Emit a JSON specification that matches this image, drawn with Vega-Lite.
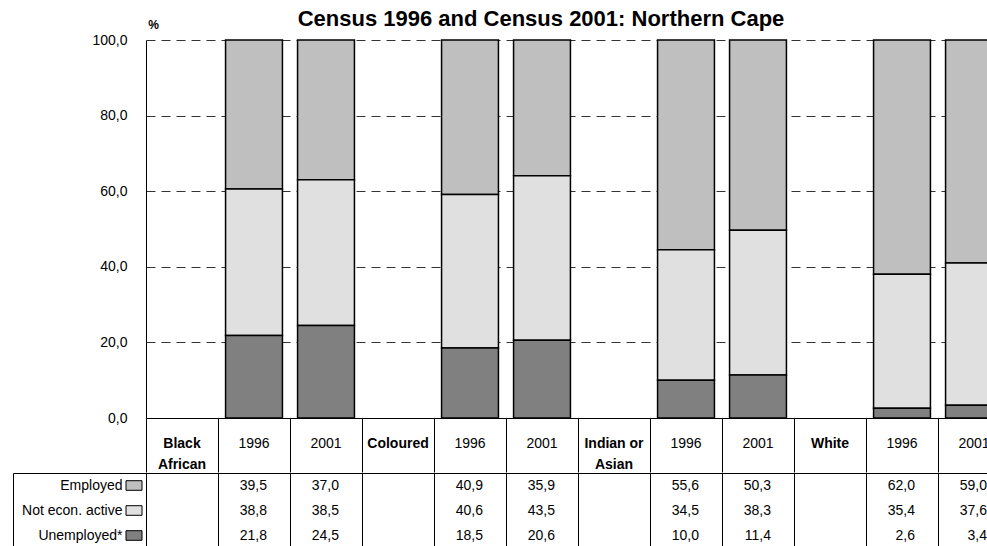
{
  "$schema": "https://vega.github.io/schema/vega-lite/v6.json",
  "padding": {"left": 12, "top": 8, "right": 0, "bottom": 0},
  "spacing": -1,
  "config": {
    "locale": {"number": {"decimal": ",", "thousands": " ", "grouping": [3], "currency": ["", ""]}},
    "font": "Liberation Sans",
    "view": {"stroke": null},
    "axis": {"labelColor": "black", "labelFontSize": 14, "labelFont": "Liberation Sans"},
    "text": {"font": "Liberation Sans"}
  },
  "data": {"values": [
    {"col": "B 1996", "status": "Employed", "value": 39.5},
    {"col": "B 1996", "status": "Not econ. active", "value": 38.8},
    {"col": "B 1996", "status": "Unemployed*", "value": 21.8},
    {"col": "B 2001", "status": "Employed", "value": 37.0},
    {"col": "B 2001", "status": "Not econ. active", "value": 38.5},
    {"col": "B 2001", "status": "Unemployed*", "value": 24.5},
    {"col": "C 1996", "status": "Employed", "value": 40.9},
    {"col": "C 1996", "status": "Not econ. active", "value": 40.6},
    {"col": "C 1996", "status": "Unemployed*", "value": 18.5},
    {"col": "C 2001", "status": "Employed", "value": 35.9},
    {"col": "C 2001", "status": "Not econ. active", "value": 43.5},
    {"col": "C 2001", "status": "Unemployed*", "value": 20.6},
    {"col": "I 1996", "status": "Employed", "value": 55.6},
    {"col": "I 1996", "status": "Not econ. active", "value": 34.5},
    {"col": "I 1996", "status": "Unemployed*", "value": 10.0},
    {"col": "I 2001", "status": "Employed", "value": 50.3},
    {"col": "I 2001", "status": "Not econ. active", "value": 38.3},
    {"col": "I 2001", "status": "Unemployed*", "value": 11.4},
    {"col": "W 1996", "status": "Employed", "value": 62.0},
    {"col": "W 1996", "status": "Not econ. active", "value": 35.4},
    {"col": "W 1996", "status": "Unemployed*", "value": 2.6},
    {"col": "W 2001", "status": "Employed", "value": 59.0},
    {"col": "W 2001", "status": "Not econ. active", "value": 37.6},
    {"col": "W 2001", "status": "Unemployed*", "value": 3.4}
  ]},
  "vconcat": [
    {
      "width": 864,
      "height": 378,
      "title": {
        "text": "Census 1996 and Census 2001: Northern Cape",
        "font": "Liberation Sans",
        "fontSize": 22,
        "fontWeight": "bold",
        "color": "black",
        "anchor": "middle",
        "frame": "group",
        "dx": -37,
        "offset": -13
      },
      "mark": {"type": "bar", "stroke": "black", "strokeWidth": 1.5, "width": {"band": 0.79}},
      "encoding": {
        "x": {
          "field": "col", "type": "nominal", "sort": null,
          "scale": {"type": "band", "domain": ["Black African", "B 1996", "B 2001", "Coloured", "C 1996", "C 2001", "Indian or Asian", "I 1996", "I 2001", "White", "W 1996", "W 2001"], "paddingInner": 0, "paddingOuter": 0},
          "axis": {
            "title": null, "orient": "bottom",
            "domain": true, "domainColor": "black", "domainWidth": 1,
            "ticks": true, "tickColor": "black", "tickSize": 54, "tickWidth": 1, "bandPosition": 0,
            "labelAngle": 0, "labelBaseline": "top", "labelPadding": -36, "labelLineHeight": 21,
            "labelOverlap": false, "labelFlush": false, "labelBound": false,
            "labelExpr": "datum.label == 'Black African' ? ['Black', 'African'] : datum.label == 'Indian or Asian' ? ['Indian or', 'Asian'] : length(datum.label) == 6 ? substring(datum.label, 2) : datum.label",
            "labelFontWeight": {"condition": {"test": "length(datum.value) != 6", "value": "bold"}, "value": "normal"}
          }
        },
        "y": {
          "field": "value", "type": "quantitative", "stack": "zero",
          "scale": {"domain": [0, 100], "nice": false, "clamp": true},
          "axis": {
            "values": [0, 20, 40, 60, 80, 100], "format": ".1f",
            "ticks": false, "domain": true, "domainColor": "black", "domainWidth": 1,
            "labelPadding": 19,
            "grid": true, "gridColor": "#333333", "gridDash": [9, 6], "gridWidth": 1, "gridOpacity": 1,
            "title": "%", "titleAngle": 0, "titleX": 7, "titleY": -12, "titleAlign": "center", "titleBaseline": "alphabetic",
            "titleFontSize": 12, "titleFontWeight": "bold", "titleColor": "black", "titleFont": "Liberation Sans"
          }
        },
        "color": {
          "field": "status", "type": "nominal",
          "scale": {"domain": ["Employed", "Not econ. active", "Unemployed*"], "range": ["#bfbfbf", "#e0e0e0", "#808080"]},
          "legend": null
        },
        "order": {"field": "status", "sort": "descending"}
      }
    },
    {
      "width": 864,
      "height": 75,
      "view": {"stroke": "black", "strokeWidth": 1},
      "layer": [
        {
          "mark": {"type": "text", "align": "right", "dx": 13, "baseline": "middle", "fontSize": 14, "color": "black"},
          "encoding": {
            "x": {
              "field": "col", "type": "nominal", "sort": null,
              "scale": {"type": "band", "domain": ["Black African", "B 1996", "B 2001", "Coloured", "C 1996", "C 2001", "Indian or Asian", "I 1996", "I 2001", "White", "W 1996", "W 2001"], "paddingInner": 0, "paddingOuter": 0},
              "axis": {"orient": "top", "title": null, "labels": false, "ticks": false, "domain": false, "grid": true, "gridColor": "black", "gridOpacity": 1, "gridWidth": 1, "bandPosition": 0}
            },
            "y": {
              "field": "status", "type": "nominal", "sort": null,
              "scale": {"type": "band", "domain": ["Employed", "Not econ. active", "Unemployed*"], "paddingInner": 0, "paddingOuter": 0},
              "axis": {"orient": "left", "title": null, "ticks": false, "domain": true, "domainColor": "black", "labelPadding": 24, "labelAlign": "right", "labelBaseline": "middle"}
            },
            "text": {"field": "value", "type": "quantitative", "format": ".1f"}
          }
        },
        {
          "transform": [{"filter": "datum.col == 'B 1996'"}],
          "mark": {"type": "point", "shape": "M-1,-0.6H1V0.6H-1Z", "size": 256, "filled": true, "stroke": "black", "strokeWidth": 1, "opacity": 1, "xOffset": -48},
          "encoding": {
            "x": {
              "datum": "Black African", "type": "nominal",
              "axis": {"orient": "top", "title": null, "labels": false, "ticks": false, "domain": false, "grid": true, "gridColor": "black", "gridOpacity": 1, "gridWidth": 1, "bandPosition": 0}
            },
            "y": {
              "field": "status", "type": "nominal", "sort": null,
              "axis": {"orient": "right", "offset": -997, "title": null, "labels": false, "domain": true, "domainColor": "black", "ticks": true, "tickColor": "black", "tickSize": 133, "tickWidth": 1, "values": ["Employed"], "bandPosition": 0, "grid": false}
            },
            "fill": {
              "field": "status", "type": "nominal",
              "scale": {"domain": ["Employed", "Not econ. active", "Unemployed*"], "range": ["#bfbfbf", "#e0e0e0", "#808080"]},
              "legend": null
            }
          }
        }
      ],
      "resolve": {"axis": {"y": "independent"}}
    }
  ]
}
